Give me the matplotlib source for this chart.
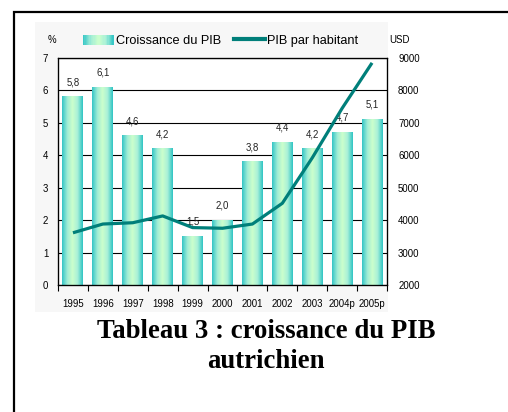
import numpy as np
import matplotlib.pyplot as plt
from matplotlib.colors import LinearSegmentedColormap
from matplotlib.patches import Rectangle
from matplotlib.lines import Line2D
from matplotlib.legend_handler import HandlerBase

# Données
annees = ['1995', '1996', '1997', '1998', '1999', '2000', '2001', '2002', '2003', '2004p', '2005p']
croissance = [5.8, 6.1, 4.6, 4.2, 1.5, 2.0, 3.8, 4.4, 4.2, 4.7, 5.1]
pib_hab = [3610, 3880, 3920, 4130, 3770, 3750, 3880, 4520, 5920, 7450, 8850]

sans = ['Liberation Sans', 'DejaVu Sans']
teal = '#007f7a'
cmap = LinearSegmentedColormap.from_list('cyl', ['#35c6c6', '#9fecd6', '#ccffcc', '#a8f0d8', '#30c4c4'])
petit = 6.9


class HandlerDegrade(HandlerBase):
    def create_artists(self, legend, orig_handle, xdescent, ydescent, width, height, fontsize, trans):
        n = 24
        arts = []
        for i in range(n):
            r = Rectangle((-xdescent + i * width / n, -ydescent), width / n + 0.3, height,
                          facecolor=cmap((i + 0.5) / n), edgecolor='none', transform=trans)
            arts.append(r)
        return arts


fig = plt.figure(figsize=(5.08, 4.12), dpi=100)
fig.patch.set_facecolor('white')

# cadre noir et fond gris clair
fig.patches.append(Rectangle((14 / 508, -0.1), 1.2, 1 - 12 / 412 + 0.1, transform=fig.transFigure,
                             fill=False, edgecolor='black', linewidth=1.6))
fig.patches.append(Rectangle((35 / 508, 1 - 312 / 412), (388 - 35) / 508, (312 - 22) / 412,
                             transform=fig.transFigure, facecolor='#f7f7f7', edgecolor='none', zorder=-1))

ax = fig.add_axes([58 / 508, 1 - 285 / 412, (387 - 58) / 508, (285 - 58) / 412])
ax.set_facecolor('white')
x = np.arange(len(annees))
bars = ax.bar(x, croissance, width=0.7, facecolor='none', edgecolor='none', zorder=2)
grad = np.linspace(0, 1, 64).reshape(1, -1)
for b in bars:
    ax.imshow(grad, cmap=cmap, aspect='auto', zorder=2,
              extent=[b.get_x(), b.get_x() + b.get_width(), 0, b.get_height()])
for xi, v in zip(x, croissance):
    ax.annotate(f'{v:.1f}'.replace('.', ','), (xi, v), xytext=(0, 7), textcoords='offset points',
                ha='center', va='bottom', fontsize=petit, family=sans, color='#222222', zorder=3)

ax.set_xlim(-0.5, len(annees) - 0.5)
ax.set_ylim(0, 7)
ax.set_yticks(range(0, 8))
ax.yaxis.grid(True, color='black', linewidth=0.8)
ax.set_axisbelow(True)
ax.tick_params(axis='y', length=0, pad=7, labelsize=petit)
ax.set_xticks(x)
ax.set_xticklabels(annees)
ax.set_xticks(np.arange(-0.5, len(annees)), minor=True)
ax.tick_params(axis='x', which='major', length=0, pad=10, labelsize=petit)
ax.tick_params(axis='x', which='minor', length=4, width=0.8, direction='out')
for lab in ax.get_xticklabels() + ax.get_yticklabels():
    lab.set_family(sans)
for s in ax.spines.values():
    s.set_linewidth(0.9)

ax2 = ax.twinx()
ax2.plot(x, pib_hab, color=teal, linewidth=2.3, solid_capstyle='butt', zorder=4)
ax2.set_ylim(2000, 9000)
ax2.set_yticks(range(2000, 10000, 1000))
ax2.tick_params(axis='y', length=0, pad=8, labelsize=petit)
for lab in ax2.get_yticklabels():
    lab.set_family(sans)

fig.text(52 / 508, 1 - 40 / 412, '%', fontsize=petit, family=sans, ha='center', va='center')
fig.text(400 / 508, 1 - 40 / 412, 'USD', fontsize=petit, family=sans, ha='center', va='center')

handles = [Rectangle((0, 0), 1, 1), Line2D([], [], color=teal, linewidth=3)]
fig.legend(handles, ['Croissance du PIB', 'PIB par habitant'],
           handler_map={Rectangle: HandlerDegrade()},
           loc='center left', bbox_to_anchor=(83 / 508, 1 - 41 / 412), ncol=2,
           frameon=False, borderpad=0, borderaxespad=0, handlelength=2.4, handleheight=0.85,
           handletextpad=0.2, columnspacing=1.0, prop={'family': sans, 'size': 9.2})

titre = ['Tableau 3 : croissance du PIB', 'autrichien']
for i, ligne in enumerate(titre):
    fig.text(266 / 508, 1 - (331 + 31 * i) / 412, ligne, ha='center', va='center',
             fontsize=19.3, fontweight='bold', family=['Liberation Serif', 'DejaVu Serif'])

fig.savefig('out.png', dpi=100)
